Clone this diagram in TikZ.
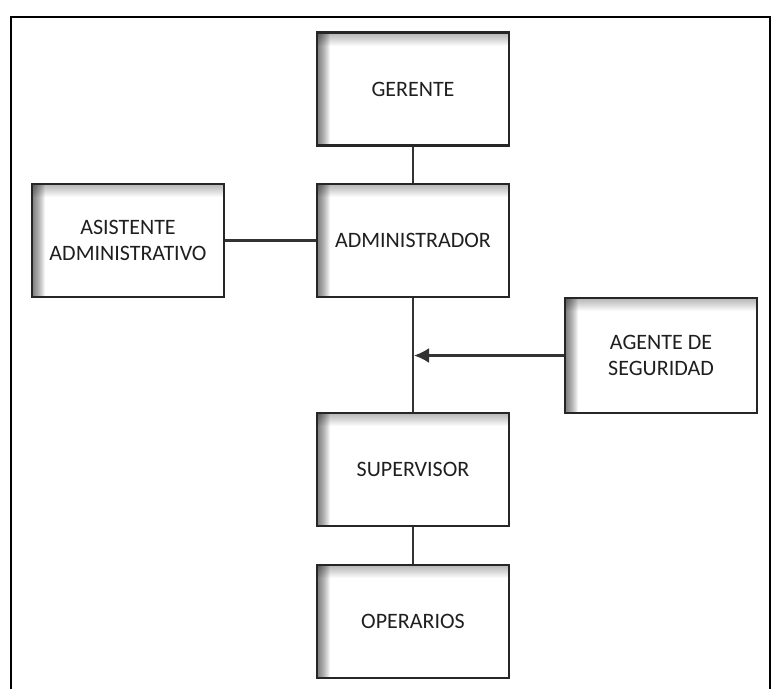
\documentclass[tikz,border=0pt]{standalone}
\usepackage{fontspec}
\setmainfont{Carlito}
\usetikzlibrary{arrows.meta}
\begin{document}
\begin{tikzpicture}[x=1pt,y=-1pt,
  orgbox/.style={draw=black!85, line width=2.4pt, fill=white, minimum width=192pt, minimum height=113pt,
    inner sep=0pt, align=center, text=black!88, font=\fontsize{22}{26}\selectfont,
    path picture={
      \foreach \i in {1,...,13}{
        \fill[black, opacity=0.025] (path picture bounding box.north west) rectangle ([yshift=-\i pt]path picture bounding box.north east);
        \fill[black, opacity=0.05] (path picture bounding box.north west) rectangle ([xshift=\i pt]path picture bounding box.south west);
      }
    }},
  link/.style={draw=black!80, line width=2.2pt},
  frameline/.style={draw=black, line width=2.2pt}]
\useasboundingbox (0,0) rectangle (774,689);
\fill[white] (0,0) rectangle (774,689);
\draw[frameline] (11,689) -- (11,17) -- (770,17) -- (770,689);

\node[orgbox] (ger) at (413,89) {GERENTE};
\node[orgbox] (adm) at (413,240.5) {ADMINISTRADOR};
\node[orgbox] (asi) at (128,240.5) {ASISTENTE\\ADMINISTRATIVO};
\node[orgbox, minimum height=115pt] (age) at (661,355.5) {AGENTE DE\\SEGURIDAD};
\node[orgbox] (sup) at (413,469.5) {SUPERVISOR};
\node[orgbox] (ope) at (413,621.5) {OPERARIOS};
\coordinate (join) at (adm.south |- age.west);

\draw[link] (ger.south) -- (adm.north);
\draw[link] (asi.east) -- (adm.west);
\draw[link] (adm.south) -- (sup.north);
\draw[link] (sup.south) -- (ope.north);
\draw[link, -{Latex[length=15pt,width=15pt]}] (age.west) -- ([xshift=1pt]join);
\end{tikzpicture}
\end{document}
